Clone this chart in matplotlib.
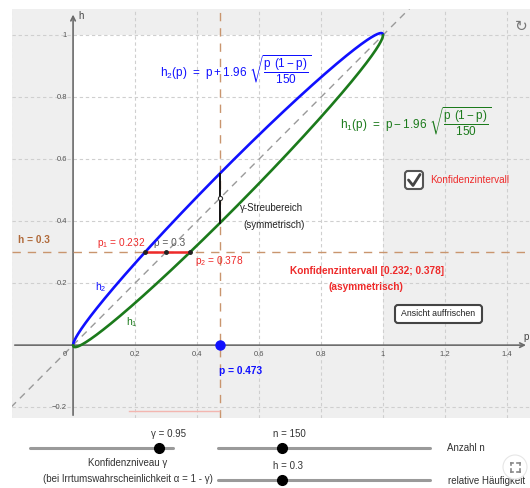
import numpy as np
import matplotlib
matplotlib.use('Agg')
import matplotlib.pyplot as plt
from matplotlib.patches import Rectangle, FancyBboxPatch, Circle

plt.rcParams['font.family'] = ['Liberation Sans', 'DejaVu Sans']
plt.rcParams['mathtext.fontset'] = 'dejavusans'

# values shown in the applet
n = 150
gamma = 0.95
z = 1.96
p_sel = 0.473
h_sel = 0.3
p1 = 0.232
p2 = 0.378
grid_ticks = [-0.2, 0.2, 0.4, 0.6, 0.8, 1.0, 1.2, 1.4]
x_tick_labels = ['0.2', '0.4', '0.6', '0.8', '1', '1.2', '1.4']
y_tick_labels = ['\u22120.2', '0.2', '0.4', '0.6', '0.8', '1']
y_tick_vals = [-0.2, 0.2, 0.4, 0.6, 0.8, 1.0]
x_tick_vals = [0.2, 0.4, 0.6, 0.8, 1.0, 1.2, 1.4]

# sliders: (value, min, max)
slider_gamma = (gamma, 0.5, 1.0)
slider_n = (n, 0, 500)
slider_h = (h_sel, 0.0, 1.0)

BLUE = '#1010ff'
GREEN = '#1b7a1b'
RED = '#ee2a2a'
BROWN = '#c9956e'
GRID = '#cfcfcf'
AXIS = '#6a6a6a'


def h1(p):
    return p - z * np.sqrt(p * (1 - p) / n)


def h2(p):
    return p + z * np.sqrt(p * (1 - p) / n)


fig = plt.figure(figsize=(5.3, 4.88), dpi=100)
fig.patch.set_facecolor('white')

ax = fig.add_axes([12 / 530, 70 / 488, 518 / 530, 409 / 488])
ax.set_xlim(-0.197, 1.474)
ax.set_ylim(-0.235, 1.084)
ax.set_facecolor('#efefef')
for s in ax.spines.values():
    s.set_visible(False)
ax.set_xticks([])
ax.set_yticks([])

# white unit square
ax.add_patch(Rectangle((0, 0), 1, 1, facecolor='white', edgecolor='none', zorder=0.5))

# grid
for g in grid_ticks:
    ax.axvline(g, color=GRID, lw=0.8, dashes=(3, 2.5), zorder=1)
    ax.axhline(g, color=GRID, lw=0.8, dashes=(3, 2.5), zorder=1)

# axes with arrows
ax.annotate('', xy=(0, 1.075), xytext=(0, -0.235),
            arrowprops=dict(arrowstyle='->', color=AXIS, lw=1.2, mutation_scale=8), zorder=2)
ax.annotate('', xy=(1.47, 0), xytext=(-0.197, 0),
            arrowprops=dict(arrowstyle='->', color=AXIS, lw=1.2, mutation_scale=8), zorder=2)
ax.text(0.018, 1.06, 'h', fontsize=7, color='#444444', va='center')
ax.text(1.452, 0.025, 'p', fontsize=7, color='#444444', va='center')

for v, lab in zip(x_tick_vals, x_tick_labels):
    ax.text(v, -0.03, lab, fontsize=5.5, color='#555555', ha='center', va='center')
for v, lab in zip(y_tick_vals, y_tick_labels):
    ax.text(-0.02, v, lab, fontsize=5.5, color='#555555', ha='right', va='center')
ax.text(-0.02, -0.03, '0', fontsize=5.5, color='#555555', ha='right', va='center')

# diagonal
diag = np.array([-0.2, 1.5])
ax.plot(diag, diag, color='#9a9a9a', lw=1, dashes=(5, 4), zorder=2)

# selected p and h lines
ax.axvline(p_sel, color=BROWN, lw=1, dashes=(6, 5), zorder=2)
ax.axhline(h_sel, color=BROWN, lw=1, dashes=(6, 5), zorder=2)

# faint interval at the bottom edge
ax.plot([0.18, 0.47], [-0.213, -0.213], color='#f3b6b0', lw=1, zorder=2)

# curves
p = np.linspace(0, 1, 600)
ax.plot(p, h2(p), color=BLUE, lw=1.9, zorder=4, solid_capstyle='round')
ax.plot(p, h1(p), color=GREEN, lw=1.9, zorder=4, solid_capstyle='round')

# confidence interval on h = 0.3
ax.plot([p1, p2], [h_sel, h_sel], color=RED, lw=1.8, zorder=5)
ax.plot([p1, h_sel, p2], [h_sel] * 3, 'o', color='#222222', ms=2.5, zorder=6)

# scatter range at p_sel
ax.plot([p_sel, p_sel], [h1(p_sel), h2(p_sel)], color='#111111', lw=1.4, zorder=5)
ax.plot(p_sel, p_sel, 'o', ms=3, mfc='white', mec='#333333', mew=0.8, zorder=6)
ax.plot(p_sel, 0, 'o', color=BLUE, ms=6.5, zorder=6)

# texts
ax.text(0.281, 0.887,
        r'$\mathregular{h_2(p)\ =\ p + 1.96}\ \sqrt{\dfrac{\mathregular{p\ (1-p)}}{\mathregular{150}}}$',
        color=BLUE, fontsize=8.5, va='center', ha='left', zorder=7)
ax.text(0.862, 0.719,
        r'$\mathregular{h_1(p)\ =\ p - 1.96}\ \sqrt{\dfrac{\mathregular{p\ (1-p)}}{\mathregular{150}}}$',
        color=GREEN, fontsize=8.5, va='center', ha='left', zorder=7)

ax.text(0.539, 0.442, '\u03b3-Streubereich', fontsize=7, color='#222222', va='center')
ax.text(0.548, 0.387, '(symmetrisch)', fontsize=7, color='#222222', va='center')

ax.text(-0.177, 0.339, 'h = 0.3', fontsize=7.3, color='#b06a3a', fontweight='bold', va='center')
ax.text(0.078, 0.328, r'p$_\mathregular{1}$ = 0.232', fontsize=7.3, color=RED, va='center')
ax.text(0.262, 0.328, 'p = 0.3', fontsize=7.3, color='#555555', va='center')
ax.text(0.394, 0.27, r'p$_\mathregular{2}$ = 0.378', fontsize=7.3, color=RED, va='center')

ax.text(0.948, 0.239, 'Konfidenzintervall [0.232; 0.378]', fontsize=7.3, color=RED,
        fontweight='bold', ha='center', va='center')
ax.text(0.945, 0.187, '(asymmetrisch)', fontsize=7.3, color=RED,
        fontweight='bold', ha='center', va='center')

ax.text(0.072, 0.187, r'h$_\mathregular{2}$', fontsize=7.5, color=BLUE, va='center')
ax.text(0.172, 0.074, r'h$_\mathregular{1}$', fontsize=7.5, color=GREEN, va='center')

ax.text(0.539, -0.084, 'p = 0.473', fontsize=7.3, color=BLUE, fontweight='bold',
        ha='center', va='center', zorder=7)

# overlay in pixel coordinates for the widgets
ui = fig.add_axes([0, 0, 1, 1], zorder=10)
ui.set_xlim(0, 530)
ui.set_ylim(488, 0)
ui.axis('off')
ui.patch.set_alpha(0)

# checkbox
ui.add_patch(FancyBboxPatch((405, 171), 18, 18, boxstyle='round,pad=0,rounding_size=3',
                            facecolor='white', edgecolor='#555555', lw=1.5))
ui.plot([408.5, 413, 420], [180, 185.5, 174.5], color='#444444', lw=2, solid_capstyle='round')
ui.text(430, 180, 'Konfidenzintervall', fontsize=7.2, color=RED, va='center')

# button
ui.add_patch(FancyBboxPatch((395, 305), 87, 18, boxstyle='round,pad=0,rounding_size=3',
                            facecolor='white', edgecolor='#444444', lw=1.5))
ui.text(438.5, 314, 'Ansicht auffrischen', fontsize=6.3, color='#222222', ha='center', va='center')

# refresh icon
ui.text(521, 26, '\u21bb', fontsize=11, color='#777777', ha='center', va='center',
        family='DejaVu Sans')


def slider(x0, x1, y, spec):
    val, lo, hi = spec
    ui.plot([x0, x1], [y, y], color='#9a9a9a', lw=2.2, solid_capstyle='round')
    xk = x0 + (val - lo) / (hi - lo) * (x1 - x0)
    ui.plot(xk, y, 'o', color='black', ms=7)
    return xk


xg = slider(30, 173, 448, slider_gamma)
ui.text(xg + 10, 434, '\u03b3 = 0.95', fontsize=7, color='#333333', ha='center', va='center')
ui.text(128, 463, 'Konfidenzniveau \u03b3', fontsize=7, color='#333333', ha='center', va='center')
ui.text(128, 479, '(bei Irrtumswahrscheinlichkeit \u03b1 = 1 - \u03b3)', fontsize=7,
        color='#333333', ha='center', va='center')

xn = slider(218, 430, 448, slider_n)
ui.text(xn - 9, 434, 'n = 150', fontsize=7, color='#333333', ha='left', va='center')
ui.text(447, 448, 'Anzahl n', fontsize=7, color='#333333', va='center')

xh = slider(218, 430, 480, slider_h)
ui.text(xh - 9, 466, 'h = 0.3', fontsize=7, color='#333333', ha='left', va='center')
ui.text(448, 481, 'relative H\u00e4ufigkeit', fontsize=7, color='#333333', va='center')

# fullscreen button
ui.add_patch(Circle((515, 467), 12, facecolor='white', edgecolor='#e6e6e6', lw=0.8, zorder=11))
for sx, sy in [(-1, -1), (1, -1), (-1, 1), (1, 1)]:
    cx, cy = 515 + sx * 4.5, 467 + sy * 4.5
    ui.plot([cx, cx], [cy, cy - sy * 2.5], color='#888888', lw=1.2, zorder=12)
    ui.plot([cx, cx - sx * 2.5], [cy, cy], color='#888888', lw=1.2, zorder=12)

fig.savefig('out.png', dpi=100)
